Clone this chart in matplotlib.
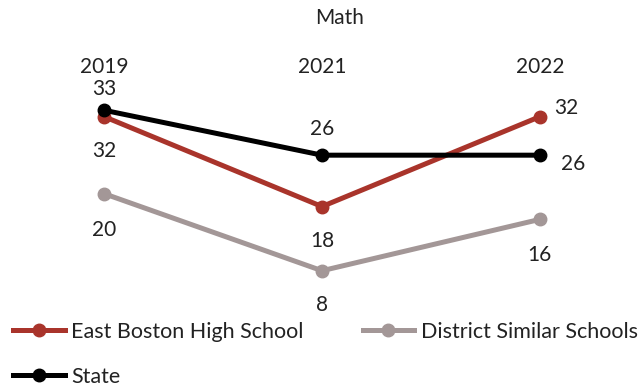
import matplotlib
matplotlib.use("Agg")
import matplotlib.pyplot as plt

years = ["2019", "2021", "2022"]
ebhs = [32, 18, 32]
district = [20, 8, 16]
state = [33, 26, 26]

c_ebhs = "#A9342B"
c_dist = "#A39797"
c_state = "#000000"

plt.rcParams['font.family'] = ['Lato', 'DejaVu Sans']

fig = plt.figure(figsize=(6.4, 3.88), dpi=100)
ax = fig.add_axes([17/640, 0.2526, 610/640, 0.546])
x = list(range(len(years)))
lw = 3.6
ms = 9
ax.plot(x, district, color=c_dist, lw=lw, marker='o', ms=ms, label="District Similar Schools", zorder=2)
ax.plot(x, ebhs, color=c_ebhs, lw=lw, marker='o', ms=ms, label="East Boston High School", zorder=3)
ax.plot(x, state, color=c_state, lw=lw, marker='o', ms=ms, label="State", zorder=4)

fs = 15
tc = "#222222"

ax.set_xlim(-0.4, 2.4)
ax.set_ylim(5, 38)
ax.set_xticks(x)
ax.set_xticklabels(years, fontsize=fs, color=tc)
ax.xaxis.tick_top()
ax.tick_params(axis='x', length=0, pad=1)
ax.set_yticks([])
for s in ax.spines.values():
    s.set_visible(False)

def lab(xi, v, dx, dy):
    ax.annotate(str(v), (xi, v), xytext=(dx, dy), textcoords='offset points',
                ha='center', va='center', fontsize=fs, color=tc)

# state labels
lab(0, state[0], 0, 15)
lab(1, state[1], 0, 19)
lab(2, state[2], 24, -6)
# ebhs labels
lab(0, ebhs[0], 0, -25)
lab(1, ebhs[1], 0, -25)
lab(2, ebhs[2], 19, 6)
# district labels
lab(0, district[0], 0, -26)
lab(1, district[1], 0, -25)
lab(2, district[2], 0, -26)

fig.text(340/640, 1 - 18/388, "Math", ha='center', va='center', fontsize=fs, color=tc)

h, l = ax.get_legend_handles_labels()
order = [1, 2, 0]
leg = fig.legend([h[i] for i in order], [l[i] for i in order], loc='upper left',
                 bbox_to_anchor=(0.0, 1 - 309/388), ncol=2, frameon=False,
                 fontsize=15.5, handlelength=2.4, handletextpad=0.3, columnspacing=2.75,
                 labelspacing=1.15, borderaxespad=0.2)
for t in leg.get_texts():
    t.set_color(tc)

fig.savefig("out.png", dpi=100)
